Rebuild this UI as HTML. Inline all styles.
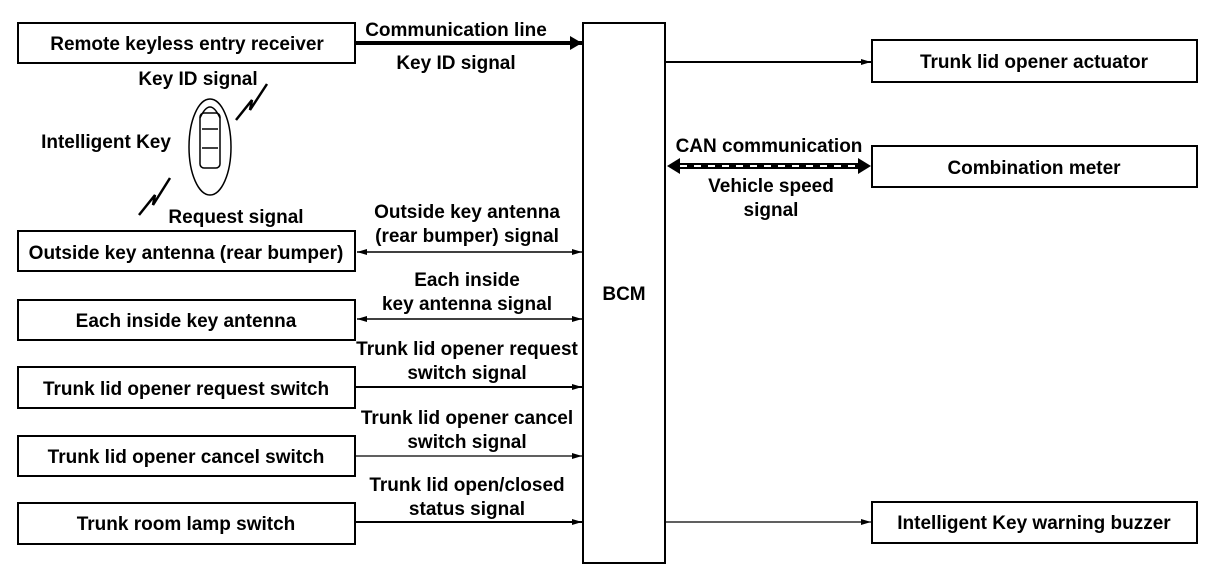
<!DOCTYPE html>
<html><head><style>
html,body{margin:0;padding:0;background:#fff;}
svg text{font-family:"Liberation Sans",Arial,sans-serif;font-size:19px;font-weight:bold;fill:#000;text-anchor:middle;}
</style></head><body>
<svg width="1216" height="582" viewBox="0 0 1216 582" xmlns="http://www.w3.org/2000/svg">
<defs>
<marker id="a" markerWidth="10" markerHeight="8" refX="10" refY="4" orient="auto" markerUnits="userSpaceOnUse"><path d="M0,1 L10,4 L0,7 Z" fill="#000"/></marker>
<marker id="as" markerWidth="10" markerHeight="8" refX="0" refY="4" orient="auto" markerUnits="userSpaceOnUse"><path d="M10,1 L0,4 L10,7 Z" fill="#000"/></marker>
<marker id="ab" markerWidth="12" markerHeight="14" refX="12" refY="7" orient="auto" markerUnits="userSpaceOnUse"><path d="M0,0 L12,7 L0,14 Z" fill="#000"/></marker>
</defs>
<g fill="none" stroke="#000" stroke-width="2">
<rect x="18" y="23" width="337" height="40"/>
<rect x="18" y="231" width="337" height="40"/>
<rect x="18" y="300" width="337" height="40"/>
<rect x="18" y="367" width="337" height="41"/>
<rect x="18" y="436" width="337" height="40"/>
<rect x="18" y="503" width="337" height="41"/>
<rect x="583" y="23" width="82" height="540"/>
<rect x="872" y="40" width="325" height="42"/>
<rect x="872" y="146" width="325" height="41"/>
<rect x="872" y="502" width="325" height="41"/>
</g>
<g stroke="#000" fill="none">
<line x1="355" y1="43" x2="582" y2="43" stroke-width="4" marker-end="url(#ab)"/>
<line x1="665" y1="62" x2="871" y2="62" stroke-width="2" marker-end="url(#a)"/>
<line x1="357" y1="252" x2="582" y2="252" stroke-width="1.5" marker-start="url(#as)" marker-end="url(#a)"/>
<line x1="357" y1="319" x2="582" y2="319" stroke-width="1.5" marker-start="url(#as)" marker-end="url(#a)"/>
<line x1="355" y1="387" x2="582" y2="387" stroke-width="2" marker-end="url(#a)"/>
<line x1="355" y1="456" x2="582" y2="456" stroke-width="1.2" marker-end="url(#a)"/>
<line x1="355" y1="522" x2="582" y2="522" stroke-width="2" marker-end="url(#a)"/>
<line x1="665" y1="522" x2="871" y2="522" stroke-width="1.2" marker-end="url(#a)"/>
<line x1="677" y1="166" x2="860" y2="166" stroke-width="6"/>
<line x1="680" y1="166" x2="858" y2="166" stroke="#fff" stroke-width="2" stroke-dasharray="7,7"/>
<path d="M667,166 L680,158 L680,174 Z M871,166 L858,158 L858,174 Z" fill="#000" stroke="none"/>
<!-- key fob -->
<ellipse cx="210" cy="147" rx="21" ry="48" stroke-width="1.5"/>
<rect x="200" y="113" width="20" height="55" rx="4" stroke-width="1.5"/>
<path d="M200,118 Q210,96 220,118" stroke-width="1.5"/>
<line x1="202" y1="129" x2="218" y2="129" stroke-width="1.5"/>
<line x1="202" y1="148" x2="218" y2="148" stroke-width="1.5"/>
<path d="M236,120 L252,100 L250,110 L267,84" stroke-width="2.5"/>
<path d="M139,215 L155,195 L153,205 L170,178" stroke-width="2.5"/>
</g>
<text x="187" y="50">Remote keyless entry receiver</text>
<text x="186" y="259">Outside key antenna (rear bumper)</text>
<text x="186" y="327">Each inside key antenna</text>
<text x="186" y="395">Trunk lid opener request switch</text>
<text x="186" y="463">Trunk lid opener cancel switch</text>
<text x="186" y="530">Trunk room lamp switch</text>
<text x="624" y="300">BCM</text>
<text x="1034" y="68">Trunk lid opener actuator</text>
<text x="1034" y="174">Combination meter</text>
<text x="1034" y="529">Intelligent Key warning buzzer</text>
<text x="456" y="36">Communication line</text>
<text x="456" y="69">Key ID signal</text>
<text x="198" y="85">Key ID signal</text>
<text x="106" y="148">Intelligent Key</text>
<text x="236" y="223">Request signal</text>
<text x="467" y="218">Outside key antenna</text>
<text x="467" y="242">(rear bumper) signal</text>
<text x="467" y="286">Each inside</text>
<text x="467" y="310">key antenna signal</text>
<text x="467" y="355">Trunk lid opener request</text>
<text x="467" y="379">switch signal</text>
<text x="467" y="424">Trunk lid opener cancel</text>
<text x="467" y="448">switch signal</text>
<text x="467" y="491">Trunk lid open/closed</text>
<text x="467" y="515">status signal</text>
<text x="769" y="152">CAN communication</text>
<text x="771" y="192">Vehicle speed</text>
<text x="771" y="216">signal</text>
</svg>
</body></html>
